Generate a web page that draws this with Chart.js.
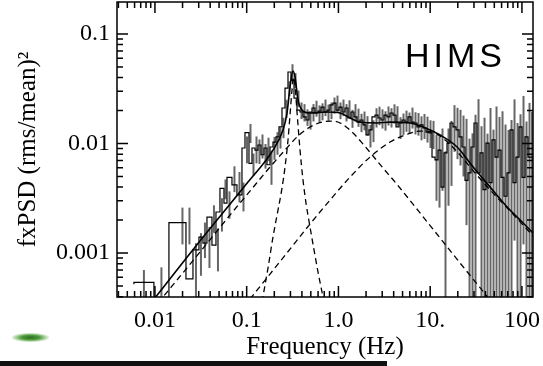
<!DOCTYPE html>
<html>
<head>
<meta charset="utf-8">
<script src="https://cdn.jsdelivr.net/npm/chart.js@4"></script>
<style>
  html, body { margin: 0; padding: 0; background: #fff; }
  #wrap { position: relative; width: 543px; height: 366px; overflow: hidden; }
  #bar  { position: absolute; left: 0; top: 361px; width: 387px; height: 5px; background: #111; }
  #blob { position: absolute; left: 12px; top: 333px; width: 37px; height: 9px;
          background: radial-gradient(ellipse at center, #2f6e22 0%, #4f9a3c 35%, #b7dcae 60%, rgba(255,255,255,0) 75%); }
</style>
</head>
<body>
<div id="wrap">
  <canvas id="psd" width="543" height="366"></canvas>
  <div id="blob"></div>
  <div id="bar"></div>
</div>
<script>
// ---------------------------
// Data
// ---------------------------
const binEdges = [
  0.0059, 0.00975, 0.01421, 0.01827, 0.02179, 0.02597, 0.03019, 0.03337, 0.0369, 0.04183,
  0.04626, 0.05113, 0.05655, 0.061, 0.06912, 0.07834, 0.08885, 0.09583, 0.10595, 0.11425,
  0.1232, 0.1328, 0.1432, 0.1544, 0.1665, 0.1795, 0.1935, 0.2087, 0.225, 0.2426,
  0.2616, 0.282, 0.3041, 0.3279, 0.3535, 0.3812, 0.411, 0.4431, 0.4778, 0.5151,
  0.5554, 0.5989, 0.6457, 0.6962, 0.7506, 0.8093, 0.8726, 0.9408, 1.014, 1.094,
  1.179, 1.272, 1.371, 1.478, 1.594, 1.718, 1.853, 1.998, 2.154, 2.322,
  2.504, 2.7, 2.911, 3.138, 3.384, 3.648, 3.934, 4.241, 4.573, 4.931,
  5.316, 5.732, 6.18, 6.663, 7.185, 7.746, 8.352, 9.005, 9.709, 10.47,
  11.29, 12.17, 13.12, 14.15, 15.25, 16.45, 17.73, 19.12, 20.62, 22.23,
  23.97, 25.84, 27.86, 30.04, 32.39, 34.92, 37.65, 40.6, 43.77, 47.19,
  50.88, 54.86, 59.15, 63.78, 68.77, 74.14, 79.94, 86.19, 92.93, 100.2,
  108.0, 116.5, 125.6, 132
];

const psdValues = [
  0.00052, 0.00054, 0.0002, 0.0019, 0.0019, 0.00058, 0.00107, 0.0014, 0.00123, 0.00213,
  0.00118, 0.00237, 0.0039, 0.00286, 0.0049, 0.0042, 0.0034, 0.0091, 0.0126, 0.0066,
  0.0091, 0.0087, 0.0097, 0.0079, 0.0091, 0.0064, 0.0093, 0.0103, 0.0115, 0.0142,
  0.0211, 0.0321, 0.045, 0.038, 0.026, 0.0202, 0.0194, 0.0175, 0.0164, 0.0194,
  0.0211, 0.019, 0.0198, 0.0215, 0.0194, 0.0202, 0.0225, 0.0234, 0.0202, 0.0215,
  0.0194, 0.0211, 0.0171, 0.0194, 0.0175, 0.0157, 0.0164, 0.0148, 0.012, 0.0133,
  0.0175, 0.0182, 0.0171, 0.0164, 0.0182, 0.0175, 0.019, 0.0182, 0.0142, 0.0154,
  0.0164, 0.0157, 0.0175, 0.0157, 0.0154, 0.0142, 0.0148, 0.0139, 0.0127, 0.0125,
  0.0075, 0.0071, 0.0087, 0.004, 0.0082, 0.0101, 0.0154, 0.0142, 0.0133, 0.0115,
  0.0093, 0.0046, 0.0054, 0.0093, 0.0154, 0.0054, 0.0082, 0.0038, 0.0101, 0.0044,
  0.0108, 0.0075, 0.0087, 0.0049, 0.0033, 0.0054, 0.0133, 0.0044, 0.0075, 0.0142,
  0.0049, 0.0115, 0.0075
];

const psdErrors = [
  0.00018, 0.0002, 0.0001, 0.0007, 0.0007, 0.00065, 0.00045, 0.0005, 0.0005, 0.0006,
  0.0005, 0.0008, 0.0008, 0.0008, 0.0013, 0.0013, 0.001, 0.0025, 0.0025, 0.0015,
  0.0025, 0.0022, 0.0024, 0.002, 0.0022, 0.0022, 0.0022, 0.0024, 0.0025, 0.003,
  0.004, 0.005, 0.008, 0.006, 0.0045, 0.0035, 0.0035, 0.003, 0.003, 0.0035,
  0.0035, 0.0033, 0.0035, 0.0037, 0.0033, 0.0035, 0.0038, 0.004, 0.0035, 0.0037,
  0.0035, 0.0037, 0.0032, 0.0035, 0.0033, 0.003, 0.0032, 0.003, 0.0028, 0.003,
  0.0035, 0.0035, 0.0034, 0.0033, 0.0036, 0.0035, 0.0038, 0.0037, 0.0032, 0.0034,
  0.0036, 0.0035, 0.0038, 0.0036, 0.0036, 0.0035, 0.0038, 0.0037, 0.0036, 0.0036,
  0.0045, 0.0045, 0.005, 0.0045, 0.0055, 0.006, 0.007, 0.007, 0.007, 0.0065,
  0.0075, 0.0065, 0.007, 0.009, 0.01, 0.009, 0.009, 0.0085, 0.011, 0.009,
  0.011, 0.01, 0.011, 0.01, 0.01, 0.011, 0.012, 0.011, 0.011, 0.013,
  0.011, 0.012, 0.012
];

// best-fit model: total and three Lorentzian components
const totalFreq = [0.0088, 0.03095, 0.1033, 0.1935, 0.2488, 0.2751, 0.2966, 0.3198, 0.3363, 0.3626,
  0.401, 0.49, 0.751, 1.041, 1.338, 1.72, 2.636, 3.653, 6.037, 8.37, 12.83, 19.65, 29.37, 45.0, 68.97, 103.1, 132.5];
const totalPsd  = [0.00034, 0.00129, 0.00445, 0.00872, 0.01328, 0.019, 0.0328, 0.0459, 0.0405, 0.025,
  0.0202, 0.019, 0.0194, 0.019, 0.0171, 0.0157, 0.0154, 0.0157, 0.0154, 0.01415, 0.01196, 0.0093, 0.0061, 0.004, 0.00263, 0.00188, 0.00152];

const broadFreq = [0.01078, 0.03095, 0.0657, 0.1086, 0.1795, 0.2617, 0.3626, 0.49, 0.6627, 0.8515,
  1.095, 1.443, 1.855, 2.384, 3.064, 4.142, 9.486, 21.19, 45.0];
const broadPsd  = [0.000349, 0.00102, 0.00222, 0.00368, 0.0061, 0.00872, 0.01171, 0.01415, 0.0157, 0.01605,
  0.01507, 0.01247, 0.00989, 0.00769, 0.00597, 0.00445, 0.00188, 0.00081, 0.000372];

const qpoFreq = [0.1468, 0.1707, 0.1935, 0.2195, 0.2427, 0.2617, 0.2821, 0.2966, 0.3119, 0.3239,
  0.3363, 0.3536, 0.3814, 0.4111, 0.4433, 0.49, 0.5418, 0.5991, 0.6627, 0.6966];
const qpoPsd  = [0.000357, 0.00073, 0.0014, 0.00247, 0.00392, 0.0061, 0.01076, 0.0182, 0.0308, 0.0405,
  0.0342, 0.0194, 0.00872, 0.00464, 0.00286, 0.00173, 0.00107, 0.00067, 0.00044, 0.000357];

const hfFreq = [0.1086, 0.1795, 0.2966, 0.49, 0.8099, 1.338, 2.211, 3.653, 5.325, 7.762,
  10.49, 14.54, 21.19, 30.88, 47.32, 74.34, 132.5];
const hfPsd  = [0.00038, 0.000643, 0.001088, 0.00184, 0.00305, 0.00494, 0.00753, 0.01032, 0.01196, 0.013,
  0.01274, 0.01076, 0.00785, 0.00538, 0.0036, 0.00242, 0.00143];

// axes
const xMin = 0.00386, xMax = 132;
const yMin = 0.000397, yMax = 0.196;
const xTickVals   = [0.01, 0.1, 1, 10, 100];
const xTickLabels = ["0.01", "0.1", "1.0", "10.", "100"];
const yTickVals   = [0.001, 0.01, 0.1];
const yTickLabels = ["0.001", "0.01", "0.1"];

// ---------------------------
// helpers
// ---------------------------
const pairs = (xs, ys) => xs.map((x, i) => ({ x, y: ys[i] }));
const stepData = binEdges.map((e, i) => ({ x: e, y: psdValues[Math.min(i, psdValues.length - 1)] }));

const serif = '"Liberation Serif", "Times New Roman", serif';
Chart.defaults.font.family = serif;
Chart.defaults.color = "#000";

function modelLine(data, dashed) {
  return {
    data, borderColor: "#000", borderWidth: dashed ? 1.3 : 1.6,
    borderDash: dashed ? [6, 4] : [], pointRadius: 0, fill: false,
    cubicInterpolationMode: "monotone"
  };
}

// error bars of the binned spectrum
const errorBars = {
  id: "errorBars",
  beforeDatasetsDraw(chart) {
    const { ctx, chartArea: a, scales: { x, y } } = chart;
    ctx.save();
    ctx.beginPath();
    ctx.rect(a.left, a.top, a.right - a.left, a.bottom - a.top);
    ctx.clip();
    ctx.strokeStyle = "rgba(85,85,85,0.9)";
    ctx.lineWidth = 2;
    psdValues.forEach((v, i) => {
      const px = (x.getPixelForValue(binEdges[i]) + x.getPixelForValue(binEdges[i + 1])) / 2;
      const lo = v - psdErrors[i];
      const yTop = y.getPixelForValue(v + psdErrors[i]);
      const yBot = lo > 0 ? y.getPixelForValue(lo) : a.bottom + 2;
      ctx.beginPath();
      ctx.moveTo(px, yTop);
      ctx.lineTo(px, yBot);
      ctx.stroke();
    });
    ctx.restore();
  }
};

// box frame with inward ticks on all four sides, plus the label
const frame = {
  id: "frame",
  afterDraw(chart) {
    const { ctx, chartArea: a, scales: { x, y } } = chart;
    ctx.save();
    ctx.strokeStyle = "#000";
    ctx.lineWidth = 1.5;
    ctx.strokeRect(a.left, a.top, a.right - a.left, a.bottom - a.top);
    ctx.beginPath();
    for (let p = -4; p <= 3; p++) {
      const d = Math.pow(10, p);
      for (let m = 1; m < 10; m++) {
        const v = m * d;
        const len = m === 1 ? 11 : 6;
        if (v >= xMin && v <= xMax) {
          const px = x.getPixelForValue(v);
          ctx.moveTo(px, a.bottom); ctx.lineTo(px, a.bottom - len);
          ctx.moveTo(px, a.top);    ctx.lineTo(px, a.top + len);
        }
        if (v >= yMin && v <= yMax) {
          const py = y.getPixelForValue(v);
          ctx.moveTo(a.left, py);  ctx.lineTo(a.left + len, py);
          ctx.moveTo(a.right, py); ctx.lineTo(a.right - len, py);
        }
      }
    }
    ctx.stroke();

    ctx.fillStyle = "#000";
    ctx.font = '34px "Liberation Sans", Arial, sans-serif';
    ctx.letterSpacing = "4px";
    ctx.textAlign = "left";
    ctx.textBaseline = "alphabetic";
    ctx.fillText("HIMS", 405, 67);
    ctx.restore();
  }
};

new Chart(document.getElementById("psd"), {
  type: "line",
  data: {
    datasets: [
      { data: stepData, stepped: "after", borderColor: "#000", borderWidth: 1.2, pointRadius: 0, fill: false },
      modelLine(pairs(totalFreq, totalPsd), false),
      modelLine(pairs(broadFreq, broadPsd), true),
      modelLine(pairs(qpoFreq, qpoPsd), true),
      modelLine(pairs(hfFreq, hfPsd), true)
    ]
  },
  options: {
    responsive: false,
    animation: false,
    events: [],
    layout: { padding: { top: 2, right: 10, left: 0, bottom: 0 } },
    plugins: { legend: { display: false }, tooltip: { enabled: false } },
    scales: {
      x: {
        type: "logarithmic", min: xMin, max: xMax,
        afterBuildTicks: s => { s.ticks = xTickVals.map(v => ({ value: v })); },
        afterFit: s => { s.height = 69; s.paddingLeft = 0; s.paddingRight = 0; },
        grid: { display: false, drawTicks: false },
        border: { display: false },
        ticks: { autoSkip: false, maxRotation: 0, padding: 9, color: "#000", font: { size: 24 },
                 callback: (v, i) => xTickLabels[i] },
        title: { display: true, text: "Frequency (Hz)", color: "#000", font: { size: 25 },
                 padding: { top: 0, bottom: 4 } }
      },
      y: {
        type: "logarithmic", min: yMin, max: yMax,
        afterBuildTicks: s => { s.ticks = yTickVals.map(v => ({ value: v })); },
        afterFit: s => { s.width = 117; s.paddingTop = 0; s.paddingBottom = 0; },
        grid: { display: false, drawTicks: false },
        border: { display: false },
        ticks: { autoSkip: false, padding: 7, color: "#000", font: { size: 24 },
                 callback: (v, i) => yTickLabels[i] },
        title: { display: true, text: "fxPSD (rms/mean)²", color: "#000", font: { size: 25 },
                 padding: { top: 13, bottom: 0 } }
      }
    }
  },
  plugins: [errorBars, frame]
});
</script>
</body>
</html>
